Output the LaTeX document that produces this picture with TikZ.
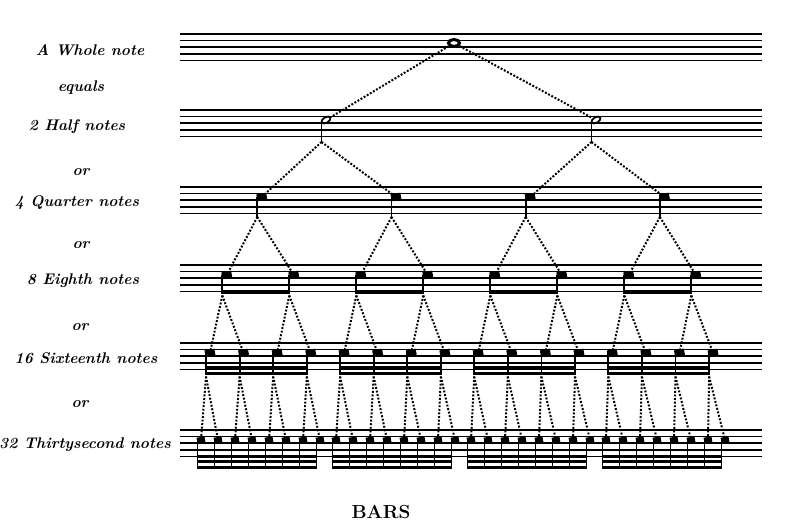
\documentclass[tikz,border=0pt]{standalone}
\usepackage{tikz}
\usetikzlibrary{shapes.geometric}

\begin{document}
\begin{tikzpicture}[x=1bp, y=-1bp,
  staffline/.style={line width=1.6bp},
  notestem/.style={line width=1.8bp},
  conn/.style={line width=2bp, dash pattern=on 1.9bp off 1.7bp},
  blackhead/.style={fill=black, inner sep=0pt, minimum width=10bp, minimum height=7bp, rotate=10},
  smallhead/.style={blackhead, minimum width=8bp, minimum height=6bp},
  openhead/.style={ellipse, draw, line width=1.8bp, inner sep=0pt, minimum width=10bp, minimum height=5.5bp, rotate=30},
  wholehead/.style={ellipse, draw, line width=3bp, inner sep=0pt, minimum width=11bp, minimum height=7bp},
  lbl/.style={font=\fontsize{15.5}{18}\selectfont\bfseries\itshape}]
\path[use as bounding box] (0,0) rectangle (790,531);
\foreach \t in {34,110,187,265,343,430}
  \foreach \k in {0,...,4}
    \draw[staffline] (180,{\t+6.6*\k}) -- (762,{\t+6.6*\k});

\node[lbl] (Lw) at (90,50) {A Whole note};
\node[lbl] (Leq) at (81,88) {equals};
\node[lbl] (Lh) at (77,127) {2 Half notes};
\node[lbl] (Lor1) at (81,172) {or};
\node[lbl] (Lq) at (77,203) {4 Quarter notes};
\node[lbl] (Lor2) at (81,245) {or};
\node[lbl] (Le) at (83,281) {8 Eighth notes};
\node[lbl] (Lor3) at (80,327) {or};
\node[lbl] (Ls) at (86,358) {16 Sixteenth notes};
\node[lbl] (Lor4) at (80,404) {or};
\node[lbl] (Lt) at (85,445) {32 Thirtysecond notes};
\node[font=\fontsize{19}{21}\selectfont\bfseries] (bars) at (381,512) {BARS};

\node[wholehead] (W) at (454,43) {};

\foreach \i/\x in {1/321.5,2/591.5} {
  \node[openhead] (H\i) at (\x+4.5,120) {};
  \draw[notestem] (\x,121) -- (\x,142) coordinate (HS\i);
  \draw[conn] (W) -- (H\i);
}

\foreach \i in {1,...,4} {
  \pgfmathsetmacro\x{257.3+134.2*(\i-1)}
  \pgfmathtruncatemacro\p{(\i+1)/2}
  \node[blackhead] (Q\i) at (\x+4.5,197) {};
  \draw[notestem] (\x,197) -- (\x,217) coordinate (QS\i);
  \draw[conn] (HS\p) -- (Q\i);
}

\foreach \i in {1,...,8} {
  \pgfmathtruncatemacro\g{(\i-1)/2}
  \pgfmathsetmacro\x{222.3+134*\g+67*(\i-1-2*\g)}
  \pgfmathtruncatemacro\p{(\i+1)/2}
  \node[blackhead] (E\i) at (\x+4.5,275) {};
  \draw[notestem] (\x,275) -- (\x,294) coordinate (ES\i);
  \draw[conn] (QS\p) -- (E\i);
}
\foreach \g in {0,...,3} {
  \pgfmathsetmacro\xa{222.3+134*\g}
  \fill (\xa-0.9,290.4) rectangle (\xa+67.9,294.2);
}

\foreach \i in {1,...,16} {
  \pgfmathtruncatemacro\g{(\i-1)/4}
  \pgfmathsetmacro\x{206+134.1*\g+33.6*(\i-1-4*\g)}
  \pgfmathtruncatemacro\p{(\i+1)/2}
  \node[blackhead] (S\i) at (\x+4,353) {};
  \draw[notestem] (\x,353) -- (\x,375) coordinate (SS\i);
  \draw[conn] ([yshift=-1.5bp]ES\p) -- (S\i);
}
\foreach \g in {0,...,3} {
  \pgfmathsetmacro\xa{206+134.1*\g}
  \fill (\xa-0.9,365.5) rectangle (\xa+101.7,368.5);
  \fill (\xa-0.9,371.6) rectangle (\xa+101.7,375.2);
}

\foreach \i in {1,...,32} {
  \pgfmathtruncatemacro\g{(\i-1)/8}
  \pgfmathsetmacro\x{197.5+135*\g+17*(\i-1-8*\g)}
  \pgfmathtruncatemacro\p{(\i+1)/2}
  \node[smallhead] (T\i) at (\x+3.5,440) {};
  \draw[notestem] (\x,440) -- (\x,468.8) coordinate (TS\i);
  \draw[conn] ([yshift=-1.5bp]SS\p) -- (T\i);
}
\foreach \g in {0,...,3} {
  \pgfmathsetmacro\xa{197.5+135*\g}
  \fill (\xa-0.9,454.5) rectangle (\xa+119.9,457.5);
  \fill (\xa-0.9,460.3) rectangle (\xa+119.9,463.3);
  \fill (\xa-0.9,465.8) rectangle (\xa+119.9,468.8);
}
\end{tikzpicture}
\end{document}
